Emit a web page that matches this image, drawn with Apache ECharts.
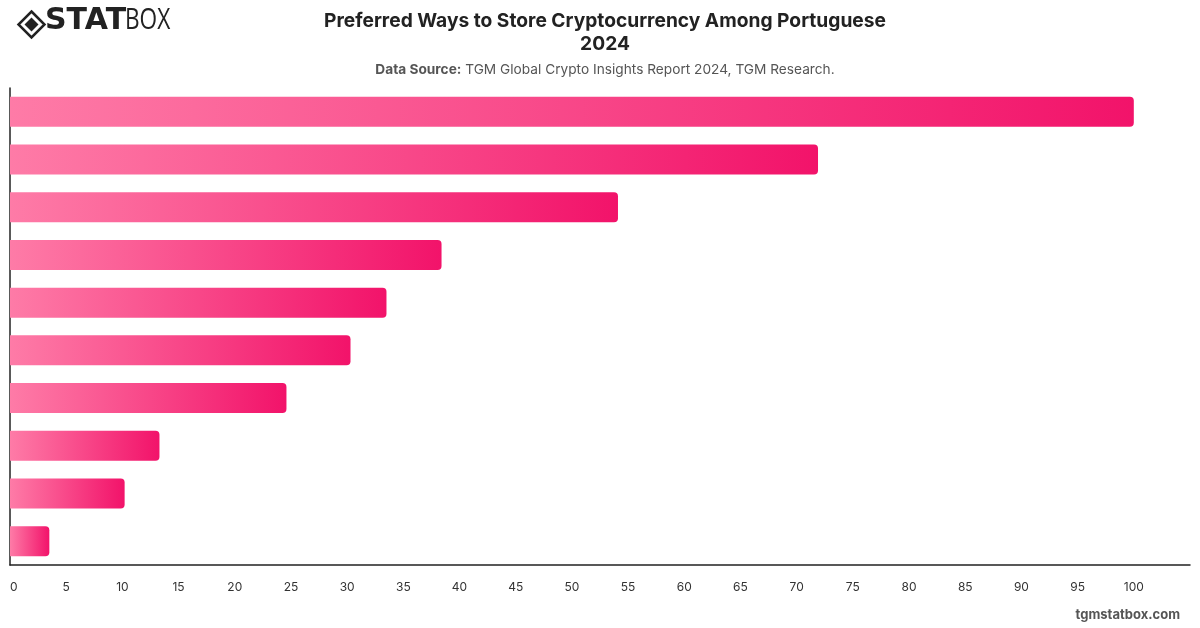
<!DOCTYPE html>
<html>
<head>
<meta charset="utf-8">
<title>Preferred Ways to Store Cryptocurrency Among Portuguese 2024</title>
<script src="https://cdn.jsdelivr.net/npm/echarts@6/dist/echarts.min.js"></script>
<style>
  html, body { margin: 0; padding: 0; background: #fff; }
  #chart { width: 1200px; height: 628px; }
</style>
</head>
<body>
<div id="chart"></div>
<script>
// categories are not printed on the reference, kept for the tooltip
var categories = [
    'Centralized exchange',
    'Mobile wallet',
    'Online wallet',
    'Hardware wallet',
    'Desktop wallet',
    'Bank / broker',
    'Paper wallet',
    'Decentralized exchange',
    'Other',
    'Do not know'
];
var values = [100, 71.9, 54.1, 38.4, 33.5, 30.3, 24.6, 13.3, 10.2, 3.5];
var xTicks = { min: 0, max: 105, interval: 5 };

var chart = echarts.init(document.getElementById('chart'));

var barColor = new echarts.graphic.LinearGradient(0, 0, 1, 0, [
    { offset: 0, color: '#fe7ba7' },
    { offset: 1, color: '#f2136a' }
]);

var option = {
    animation: false,
    title: [
        {
            text: 'Preferred Ways to Store Cryptocurrency Among Portuguese\n2024',
            left: 600,
            top: 5,
            textAlign: 'center',
            textStyle: {
                fontFamily: 'Inter',
                fontSize: 19.2,
                fontWeight: 'bold',
                color: '#222',
                lineHeight: 23
            }
        },
        {
            text: '{b|Data Source:} TGM Global Crypto Insights Report 2024, TGM Research.',
            left: 600,
            top: 58,
            textAlign: 'center',
            textStyle: {
                fontFamily: 'Inter',
                fontSize: 13.7,
                fontWeight: 'normal',
                color: '#555',
                rich: {
                    b: { fontFamily: 'Inter', fontSize: 13.7, fontWeight: 'bold', color: '#555' }
                }
            }
        }
    ],
    tooltip: { trigger: 'axis', axisPointer: { type: 'shadow' } },
    grid: { left: 10, right: 10, top: 88, bottom: 63, containLabel: false },
    xAxis: {
        type: 'value',
        min: xTicks.min,
        max: xTicks.max,
        interval: xTicks.interval,
        splitLine: { show: false },
        axisLine: { show: true, lineStyle: { color: '#222', width: 1.5 } },
        axisTick: { show: false },
        axisLabel: {
            color: '#333',
            fontFamily: 'Inter',
            fontSize: 12,
            margin: 16,
            showMaxLabel: false,
            alignMinLabel: 'left'
        }
    },
    yAxis: {
        type: 'category',
        data: categories,
        inverse: true,
        axisLine: { show: true, lineStyle: { color: '#222', width: 1.5 } },
        axisTick: { show: false },
        axisLabel: { show: false }
    },
    series: [
        {
            type: 'bar',
            data: values,
            barWidth: 30,
            itemStyle: {
                color: barColor,
                borderRadius: [0, 4, 4, 0]
            }
        }
    ],
    graphic: [
        {
            type: 'group',
            left: 16,
            top: 9,
            children: [
                {
                    type: 'polygon',
                    shape: { points: [[13, 0], [26, 13], [13, 26], [0, 13]] },
                    style: { fill: 'none', stroke: '#222', lineWidth: 2.5 }
                },
                {
                    type: 'polygon',
                    shape: { points: [[13, 6], [20, 13], [13, 20], [6, 13]] },
                    style: { fill: '#222' }
                }
            ]
        },
        {
            type: 'text',
            left: 45,
            top: 6,
            style: {
                text: 'STAT',
                fill: '#222',
                font: 'bold 30px "DejaVu Sans"'
            }
        },
        {
            type: 'text',
            x: 125,
            y: 6,
            scaleX: 0.78,
            style: {
                text: 'BOX',
                fill: '#222',
                font: 'normal 29px "Open Sans"'
            }
        },
        {
            type: 'text',
            right: 20,
            top: 609,
            style: {
                text: 'tgmstatbox.com',
                fill: '#555',
                font: 'bold 13px Inter'
            }
        }
    ]
};

chart.setOption(option);

window.addEventListener('resize', function () {
    chart.resize();
});
</script>
</body>
</html>
